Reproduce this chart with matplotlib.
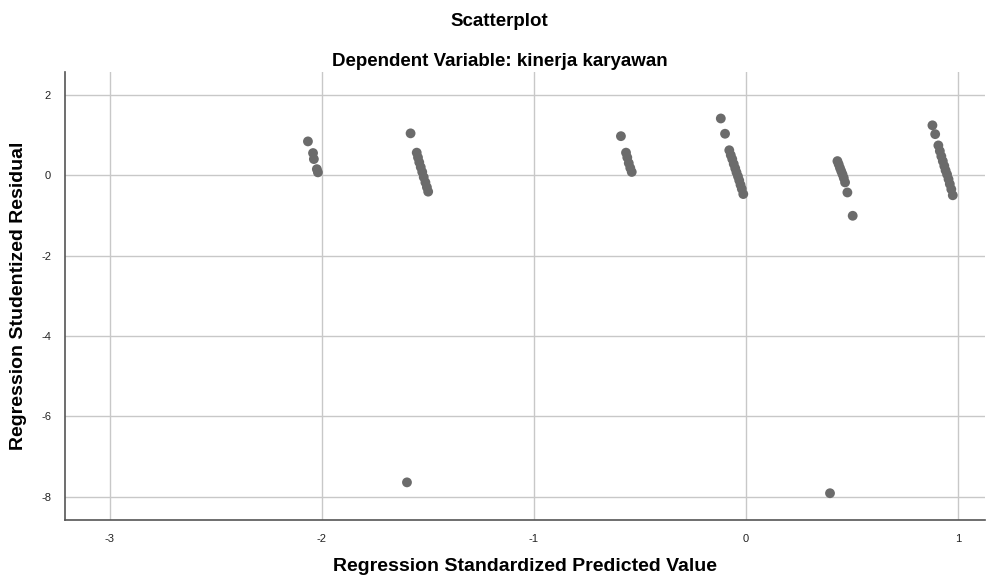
import matplotlib
matplotlib.use('Agg')
import matplotlib.pyplot as plt

plt.rcParams['font.family'] = ['Liberation Sans', 'DejaVu Sans']
plt.rcParams['axes.unicode_minus'] = False

# residual plot: standardized predicted value vs studentized residual
pred = [
    -2.066, -2.042, -2.038, -2.024, -2.019,
    -1.582, -1.553, -1.547, -1.541, -1.534, -1.527, -1.520, -1.512, -1.505, -1.499,
    -1.599,
    -0.590, -0.566, -0.560, -0.553, -0.546, -0.539,
    -0.119, -0.099, -0.079, -0.072, -0.065, -0.058, -0.051, -0.045, -0.038, -0.032,
    -0.026, -0.020, -0.013,
    0.431, 0.437, 0.443, 0.449, 0.455, 0.461, 0.467, 0.478, 0.503,
    0.396,
    0.879, 0.892, 0.907, 0.914, 0.921, 0.928, 0.935, 0.941, 0.948, 0.955, 0.961,
    0.968, 0.975,
]
resid = [
    0.84, 0.55, 0.40, 0.15, 0.07,
    1.04, 0.56, 0.44, 0.32, 0.20, 0.08, -0.05, -0.18, -0.30, -0.41,
    -7.64,
    0.97, 0.56, 0.44, 0.30, 0.18, 0.08,
    1.41, 1.03, 0.62, 0.50, 0.40, 0.28, 0.17, 0.07, -0.03, -0.13,
    -0.24, -0.34, -0.47,
    0.35, 0.27, 0.18, 0.10, 0.02, -0.07, -0.18, -0.43, -1.01,
    -7.91,
    1.24, 1.02, 0.74, 0.60, 0.47, 0.35, 0.23, 0.12, 0.02, -0.10, -0.22,
    -0.35, -0.50,
]

x_ticks = [-3, -2, -1, 0, 1]
y_ticks = [2, 0, -2, -4, -6, -8]

fig = plt.figure(figsize=(9.99, 5.84), dpi=100)
ax = fig.add_axes([0.065, 0.110, 0.921, 0.767])

ax.scatter(pred, resid, s=50, color='#6b6b6b', edgecolors='none', zorder=3)

ax.set_xlim(-3.212, 1.127)
ax.set_ylim(-8.57, 2.57)
ax.set_xticks(x_ticks)
ax.set_yticks(y_ticks)
ax.grid(True, color='#c8c8c8', linewidth=1.0)
ax.set_axisbelow(True)
ax.tick_params(length=0, labelsize=8, colors='#222222', pad=10)

for side in ('top', 'right'):
    ax.spines[side].set_visible(False)
for side in ('left', 'bottom'):
    ax.spines[side].set_color('#555555')
    ax.spines[side].set_linewidth(1.2)

ax.set_xlabel('Regression Standardized Predicted Value', fontsize=14,
              fontweight='bold', va='center')
ax.set_ylabel('Regression Studentized Residual', fontsize=14,
              fontweight='bold', va='center')
ax.xaxis.set_label_coords(0.5, -0.105)
ax.yaxis.set_label_coords(-0.051, 0.5)

fig.text(0.5, 1 - 22 / 584, 'Scatterplot', ha='center', va='center',
         fontsize=13.5, fontweight='bold')
fig.text(0.5, 1 - 62 / 584, 'Dependent Variable: kinerja karyawan', ha='center',
         va='center', fontsize=13.5, fontweight='bold')

fig.savefig('out.png', dpi=100)
